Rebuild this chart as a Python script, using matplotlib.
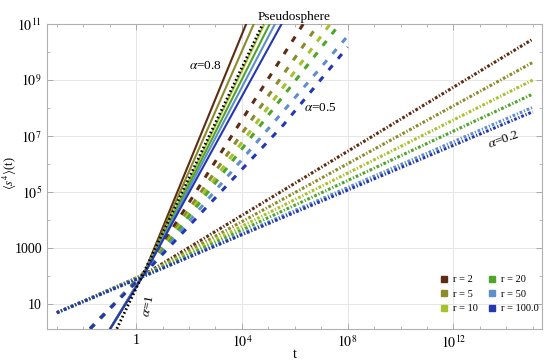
import numpy as np
import matplotlib
matplotlib.use("Agg")
import matplotlib.pyplot as plt
from matplotlib.lines import Line2D
from matplotlib.ticker import FixedLocator, FixedFormatter, NullFormatter

plt.rcParams['font.family'] = ['Liberation Serif', 'DejaVu Serif']
plt.rcParams['mathtext.fontset'] = 'stix'

# ---- data (log10 values) ----
r_labels = ["r = 2", "r = 5", "r = 10", "r = 20", "r = 50", "r = 100.0"]
colors = ["#5c2d14", "#8b8b2a", "#a6c22a", "#4fa52a", "#5f8fc8", "#2338b0"]

# alpha = 0.2 (dotted): log10 t and log10 <s^4>
lt_02 = [-3.0, 0.34, 15.0]
ly_02 = [
    [0.70, 2.08, 10.46],
    [0.70, 2.06, 9.63],
    [0.70, 2.05, 9.00],
    [0.70, 2.04, 8.50],
    [0.70, 2.03, 8.03],
    [0.70, 2.02, 7.87],
]

# alpha = 0.5 (dashed): each line has its own end point
lt_05 = [
    [-1.74, 0.34, 6.32],
    [-1.74, 0.34, 6.90],
    [-1.74, 0.34, 7.34],
    [-1.74, 0.34, 7.70],
    [-1.74, 0.34, 8.00],
    [-1.74, 0.34, 5.57, 8.00],
]
ly_05 = [
    [0.13, 2.18, 11.0],
    [0.13, 2.16, 11.0],
    [0.13, 2.15, 11.0],
    [0.13, 2.14, 11.0],
    [0.13, 2.13, 10.57],
    [0.13, 2.12, 7.40, 10.18],
]

# alpha = 0.8 (solid)
lt_08 = [
    [-0.98, 0.34, 4.16],
    [-0.98, 0.34, 4.45],
    [-0.98, 0.34, 4.85],
    [-0.98, 0.34, 5.05],
    [-0.98, 0.34, 5.25],
    [-0.98, 0.34, 5.50],
]
ly_08 = [
    [0.13, 2.20, 11.0],
    [0.13, 2.18, 11.0],
    [0.13, 2.16, 11.0],
    [0.13, 2.15, 11.0],
    [0.13, 2.14, 11.0],
    [0.13, 2.13, 11.0],
]

# alpha = 1 (black dotted reference)
lt_1 = [-0.73, 4.79]
ly_1 = [0.13, 11.0]

x_ticks = [1, 1e4, 1e8, 1e12]
x_ticklabels = ["1", "$10^{4}$", "$10^{8}$", "$10^{12}$"]
y_ticks = [10, 1e3, 1e5, 1e7, 1e9, 1e11]
y_ticklabels = ["10", "1000", "$10^{5}$", "$10^{7}$", "$10^{9}$", "$10^{11}$"]

# ---- figure ----
fig = plt.figure(figsize=(5.5, 3.64), dpi=100)
ax = fig.add_axes([0.085, 0.097, 0.900, 0.837])
ax.set_xscale('log')
ax.set_yscale('log')

for k in range(6):
    ax.plot(10.0 ** np.array(lt_02), 10.0 ** np.array(ly_02[k]), color=colors[k],
            lw=2.2, ls=(0, (0.9, 0.6, 0.4, 0.6)), zorder=3)
for k in range(6):
    ax.plot(10.0 ** np.array(lt_05[k]), 10.0 ** np.array(ly_05[k]), color=colors[k],
            lw=2.2, ls=(0, (2.0, 2.8)), zorder=3)
for k in range(6):
    ax.plot(10.0 ** np.array(lt_08[k]), 10.0 ** np.array(ly_08[k]), color=colors[k],
            lw=1.5, ls='-', zorder=3)
ax.plot(10.0 ** np.array(lt_1), 10.0 ** np.array(ly_1), color='black',
        lw=2.0, ls=(0, (0.6, 0.9)), zorder=4)

ax.set_xlim(10 ** -3.38, 10 ** 15.34)
ax.set_ylim(10 ** 0.13, 10 ** 11.0)

ax.xaxis.set_major_locator(FixedLocator(x_ticks))
ax.xaxis.set_major_formatter(FixedFormatter(x_ticklabels))
ax.yaxis.set_major_locator(FixedLocator(y_ticks))
ax.yaxis.set_major_formatter(FixedFormatter(y_ticklabels))
ax.xaxis.set_minor_locator(FixedLocator([10.0 ** e for e in range(-3, 16)]))
ax.yaxis.set_minor_locator(FixedLocator([10.0 ** e for e in range(0, 12)]))
ax.xaxis.set_minor_formatter(NullFormatter())
ax.yaxis.set_minor_formatter(NullFormatter())

ax.tick_params(which='both', direction='in', top=True, right=True,
               color='#aaaaaa', labelsize=10)
ax.tick_params(which='major', length=4, width=0.7)
ax.tick_params(which='minor', length=2, width=0.6)
ax.tick_params(axis='x', pad=4)
for sp in ax.spines.values():
    sp.set_color('#b0b0b0')
    sp.set_linewidth(0.8)

ax.grid(True, which='major', color='#e6e6e6', lw=0.7, zorder=0)
ax.set_axisbelow(True)

ax.set_title("Pseudosphere", fontsize=9.5, pad=3)
fig.text(295 / 550, 1 - 355 / 364, "t", fontsize=10, ha='center', va='center')
fig.text(10 / 550, 1 - 173 / 364, r"$\langle s^4\rangle$(t)", fontsize=9,
         ha='center', va='center', rotation=90)

ax.text(10 ** 2.61, 10 ** 9.5, r"$\alpha$=0.8", fontsize=9.5, ha='center', va='center')
ax.text(10 ** 6.96, 10 ** 8.0, r"$\alpha$=0.5", fontsize=9.5, ha='center', va='center')
ax.text(10 ** 13.88, 10 ** 6.86, r"$\alpha$=0.2", fontsize=9.5, ha='center', va='center',
        rotation=20)
ax.text(10 ** 0.45, 10 ** 0.95, r"$\alpha$=1", fontsize=9.5, ha='center', va='center',
        rotation=78)

handles = [Line2D([], [], ls='none', marker='s', markersize=5, color=c) for c in colors]
leg = ax.legend(handles, r_labels, ncol=2, loc='lower right', frameon=False,
                fontsize=7.5, handlelength=0.8, handletextpad=0.4, columnspacing=1.0,
                labelspacing=0.5, bbox_to_anchor=(1.012, 0.02))

fig.savefig("out.png", dpi=100)
